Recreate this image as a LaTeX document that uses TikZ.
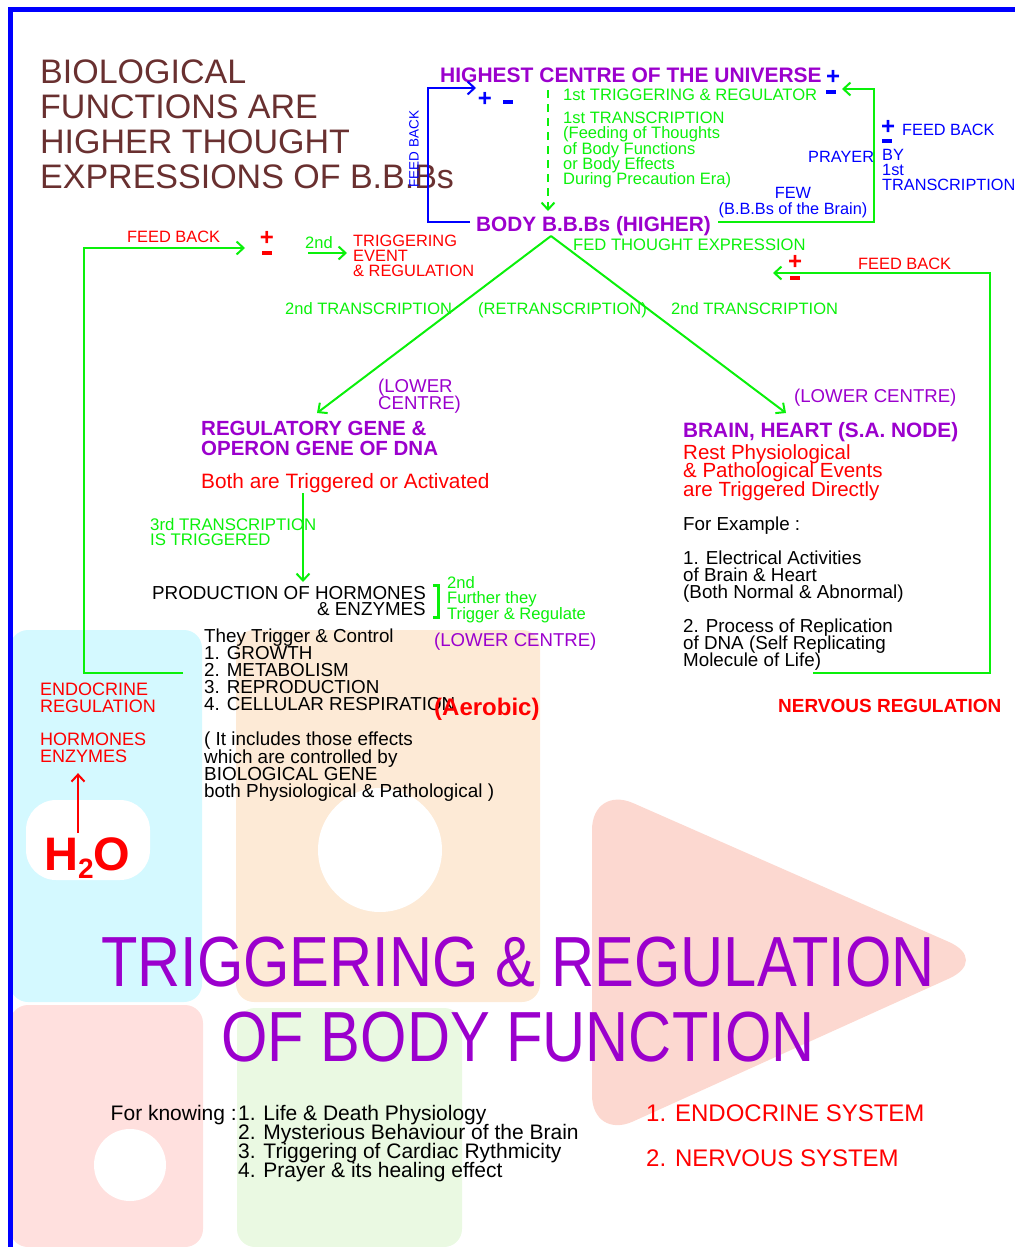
\documentclass[tikz,border=0pt]{standalone}
\usepackage{fontspec}
\setmainfont{Liberation Sans}
\newfontfamily\narrowsans[FakeStretch=0.84]{Liberation Sans}
\usepackage{xcolor}
\usepackage{tikz}
\usetikzlibrary{calc,arrows.meta}
\definecolor{bbbbrown}{RGB}{105,48,48}
\definecolor{thoughtpurple}{RGB}{155,0,205}
\definecolor{brightgreen}{RGB}{10,240,10}
\definecolor{markcyan}{RGB}{212,249,255}
\definecolor{markorange}{RGB}{253,234,214}
\definecolor{markpink}{RGB}{255,224,222}
\definecolor{markrose}{RGB}{252,216,208}
\definecolor{markgreen}{RGB}{234,249,226}
\newcommand{\fsz}[2]{\fontsize{#1}{#2}\selectfont\lineskiplimit=-50pt}
\newcommand{\minusbar}{\rule{10pt}{3.5pt}}

\begin{document}
\begin{tikzpicture}[x=1pt,y=-1pt,
		lbl/.style={inner sep=0pt, anchor=north west, align=left},
		grn/.style={lbl, text=brightgreen, font=\fsz{16.5}{15.3}},
		blu/.style={lbl, text=blue, font=\fsz{16.3}{15.5}},
		rd/.style={lbl, text=red, font=\fsz{16.4}{15}},
		blk/.style={lbl, text=black, font=\fsz{18.8}{17}},
		pur/.style={lbl, text=thoughtpurple, font=\fsz{18.6}{17}},
		head/.style={lbl, text=thoughtpurple, font=\bfseries\fsz{20.8}{20}},
		pm/.style={inner sep=0pt, font=\bfseries\fsz{24}{24}},
		link/.style={line width=2pt, -{Straight Barb[length=7pt,width=13pt]}}]
			\useasboundingbox (0,0) rectangle (1015,1247);
			\fill [markcyan, rounded corners=18pt] (10,630) rectangle (202,1002);
			\fill [white, rounded corners=30pt] (26,800) rectangle (150,880);
			\fill [markorange, rounded corners=18pt] (236,630) rectangle (540,1002);
			\fill [white] (380,850) circle (62);
			\fill [markpink, rounded corners=18pt] (10,1005) rectangle (203,1247);
			\fill [white] (130,1165) circle (36);
			\fill [markgreen, rounded corners=18pt] (237,1008) rectangle (462,1247);
			\fill [markrose, rounded corners=45pt] (592,785) -- (990,960) -- (592,1140) -- cycle;
			\draw [blue, line width=5pt] (10,1247) -- (10,9.5) -- (1015,9.5);

			\node [lbl, text=bbbbrown, font=\fsz{34}{35}] (title) at (40,60) {BIOLOGICAL\\FUNCTIONS ARE\\HIGHER THOUGHT\\EXPRESSIONS OF B.B.Bs};
			\node [head, font=\bfseries\fsz{21}{21}] (highest) at (440,67.5) {HIGHEST CENTRE OF THE UNIVERSE};
			\node [pm, text=blue] (plusA) at (485,99) {+};
			\node [pm, text=blue] (minusA) at (508,102) {\minusbar};
			\node [pm, text=blue] (plusB) at (833,77) {+};
			\node [pm, text=blue] (minusB) at (831,92) {\minusbar};
			\node [pm, text=blue] (plusC) at (888,127) {+};
			\node [pm, text=blue] (minusC) at (887,141) {\minusbar};
			\node [grn, font=\fsz{16.6}{16}] (trig1) at (563,89) {1st TRIGGERING \& REGULATOR};
			\node [grn, font=\fsz{16.5}{15.25}] (trans1) at (563,112) {1st TRANSCRIPTION\\(Feeding of Thoughts\\of Body Functions\\or Body Effects\\During Precaution Era)};
			\node [blu] (prayer) at (808,151) {PRAYER};
			\node [blu, anchor=north, align=center, font=\fsz{16.3}{16}] (few) at (793,187) {FEW\\(B.B.Bs of the Brain)};
			\node [blu] (fbC) at (902,124) {FEED BACK};
			\node [blu, font=\fsz{16.3}{15}] (byC) at (882,149) {BY\\1st\\TRANSCRIPTION};
			\node [inner sep=0pt, text=blue, rotate=90, font=\fsz{13.5}{13.5}] (fbV) at (414,149) {FEED BACK};
			\node [head] (body) at (476,216.5) {BODY B.B.Bs (HIGHER)};
			\node [grn, font=\fsz{16.6}{16}] (fed) at (573,239) {FED THOUGHT EXPRESSION};
			\node [grn] (tr2L) at (285,302) {2nd TRANSCRIPTION};
			\node [grn] (retr) at (478,302) {(RETRANSCRIPTION)};
			\node [grn] (tr2R) at (671,302) {2nd TRANSCRIPTION};

			\node [rd] (fbL) at (127,231) {FEED BACK};
			\node [pm, text=red] (plusL) at (267,238) {+};
			\node [pm, text=red] (minusL) at (267,253) {\minusbar};
			\node [grn] (nd2) at (305,236) {2nd};
			\node [rd] (trig2) at (353,235) {TRIGGERING\\EVENT\\\& REGULATION};
			\node [rd] (fbR) at (858,258) {FEED BACK};
			\node [pm, text=red] (plusR) at (795,262) {+};
			\node [pm, text=red] (minusR) at (795,278) {\minusbar};

			\node [pur] (lowL) at (378,379) {(LOWER\\CENTRE)};
			\node [head, font=\bfseries\fsz{20.5}{20}] (gene) at (201,421) {REGULATORY GENE \&\\OPERON GENE OF DNA};
			\node [lbl, text=red, font=\fsz{20.8}{20}] (both) at (201,473) {Both are Triggered or Activated};
			\node [grn, font=\fsz{16.8}{15}] (tr3) at (150,518) {3rd TRANSCRIPTION\\IS TRIGGERED};
			\node [blk, anchor=north east, align=right, font=\fsz{18.8}{16.5}] (prod) at (426,586) {PRODUCTION OF HORMONES\\\& ENZYMES};
			\node [grn, font=\fsz{16.6}{15.7}] (further) at (447,576) {2nd\\Further they\\Trigger \& Regulate};
			\node [pur] (lowM) at (434,633) {(LOWER CENTRE)};
			\node [blk] (they) at (204,629) {They Trigger \& Control\\1. GROWTH\\2. METABOLISM\\3. REPRODUCTION\\4. CELLULAR RESPIRATION};
			\node [lbl, text=red, font=\bfseries\fsz{24}{24}] (aero) at (434,698) {(Aerobic)};
			\node [blk, font=\fsz{18.9}{17.3}] (incl) at (204,732) {( It includes those effects\\which are controlled by\\BIOLOGICAL GENE\\both Physiological \& Pathological )};
			\node [rd, font=\fsz{18}{17}] (endo) at (40,683) {ENDOCRINE\\REGULATION};
			\node [rd, font=\fsz{18}{17}] (horm) at (40,733) {HORMONES\\ENZYMES};
			\node [lbl, text=red, font=\bfseries\fsz{47}{47}] (water) at (44,837) {H\raisebox{-8pt}{\fsz{28}{28}2}O};

			\node [pur] (lowR) at (794,389) {(LOWER CENTRE)};
			\node [head] (brain) at (683,422) {BRAIN, HEART (S.A. NODE)};
			\node [lbl, text=red, font=\fsz{20.5}{18.5}] (rest) at (683,444) {Rest Physiological\\\& Pathological Events\\are Triggered Directly};
			\node [blk] (forex) at (683,517) {For Example :};
			\node [blk] (ex1) at (683,551) {1. Electrical Activities\\of Brain \& Heart\\(Both Normal \& Abnormal)};
			\node [blk] (ex2) at (683,619) {2. Process of Replication\\of DNA (Self Replicating\\Molecule of Life)};
			\node [lbl, text=red, font=\bfseries\fsz{19}{19}] (nerv) at (778,699) {NERVOUS REGULATION};

			\node [inner sep=0pt, anchor=north, align=center, text=thoughtpurple, font=\narrowsans\fsz{71}{75}] (bigtitle) at (518,937) {TRIGGERING \& REGULATION\\OF BODY FUNCTION};
			\node [lbl, anchor=north east, font=\fsz{21}{19}] (knowing) at (237,1105) {For knowing :};
			\node [lbl, font=\fsz{21}{19}] (list) at (238,1105) {1. Life \& Death Physiology\\2. Mysterious Behaviour of the Brain\\3. Triggering of Cardiac Rythmicity\\4. Prayer \& its healing effect};
			\node [lbl, text=red, font=\fsz{24}{24}] (sysE) at (646,1105) {1. ENDOCRINE SYSTEM};
			\node [lbl, text=red, font=\fsz{24}{24}] (sysN) at (646,1150) {2. NERVOUS SYSTEM};

			\coordinate (bodyL) at (470,222);
			\coordinate (fbTop) at (476,88);
			\draw [link, blue] (bodyL) -- ++(-42,0) |- (fbTop);
			\coordinate (bodyR) at (718,222);
			\coordinate (topR) at (842,89);
			\draw [link, brightgreen] (bodyR) -- ++(156,0) |- (topR);
			\coordinate (dashTop) at (548,90);
			\coordinate (dashEnd) at (548,211);
			\draw [link, brightgreen, dash pattern=on 8pt off 6pt] (dashTop) -- (dashEnd);
			\coordinate (apex) at (551,236);
			\coordinate (geneTip) at (317,413);
			\coordinate (brainTip) at (786,413);
			\draw [link, brightgreen] (apex) -- (geneTip);
			\draw [link, brightgreen] (apex) -- (brainTip);
			\coordinate (hormFoot) at (183,673);
			\coordinate (fbLTip) at (245,248);
			\draw [link, brightgreen] (hormFoot) -- ++(-99,0) |- (fbLTip);
			\coordinate (exFoot) at (813,673);
			\coordinate (fbRTip) at (773,273);
			\draw [link, brightgreen] (exFoot) -- ++(177,0) |- (fbRTip);
			\coordinate (nd2Start) at (308,253);
			\draw [link, brightgreen, shorten >=6pt] (nd2Start) -- (nd2Start -| trig2.west);
			\coordinate (geneFoot) at (303,493);
			\draw [link, brightgreen, shorten >=4pt] (geneFoot) -- (geneFoot |- prod.north);
			\coordinate (waterTop) at (78,833);
			\draw [link, red, shorten >=10pt] (waterTop) -- (waterTop |- horm.south);
			\draw [brightgreen, line width=3pt] (433,585) -- (438,585) -- (438,617) -- (433,617);
		\end{tikzpicture}
\end{document}
